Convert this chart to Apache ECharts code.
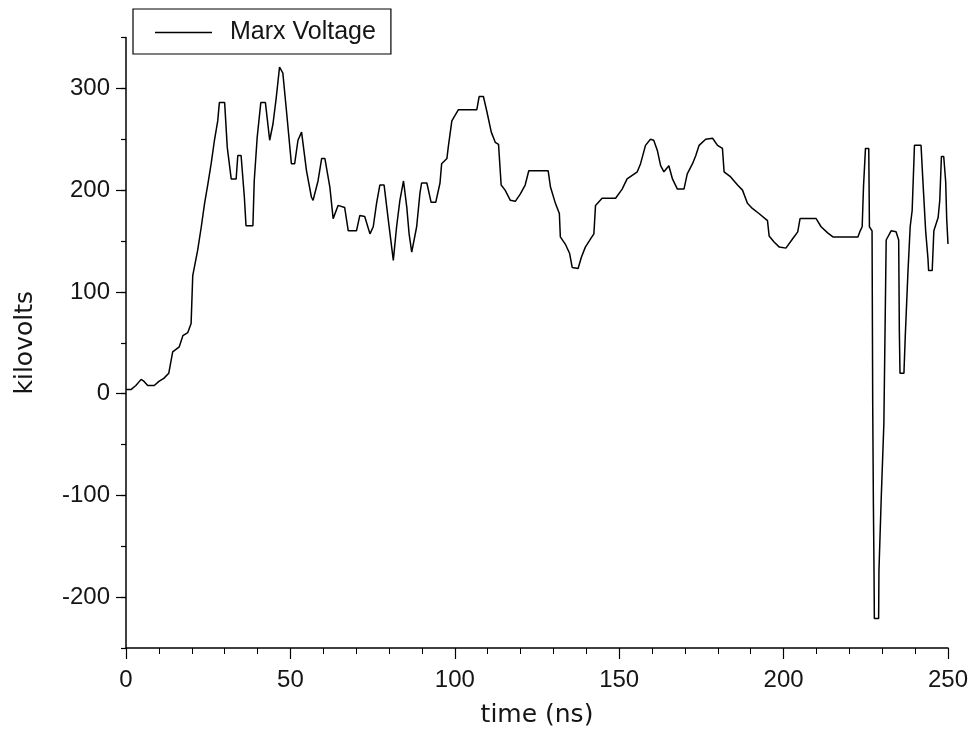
<!DOCTYPE html>
<html>
<head>
<meta charset="utf-8">
<script src="https://cdn.jsdelivr.net/npm/echarts@6/dist/echarts.min.js"></script>
<style>
html,body{margin:0;padding:0;background:#fff;}
#chart{width:971px;height:729px;}
</style>
</head>
<body>
<div id="chart"></div>
<script>
const seriesName = 'Marx Voltage';
const xTitle = 'time (ns)';
const yTitle = 'kilovolts';
const timeNs = [0,1.5,3,4.6,5.5,6.6,8.6,10,11.5,13,14.2,16.2,17.3,18.8,19.8,20.3,21.8,22.9,23.9,24.9,25.9,26.9,27.9,28.4,30,30.8,32,33.5,34,35,36,36.5,38.6,39,39.9,41,42.4,43.7,44.7,45.7,46.7,47.7,48.8,50.3,51.3,52.3,53.4,54.9,56.4,56.9,58.4,59.5,60.5,62,63,64.5,66.5,67.6,70.1,71.1,72.6,74.2,75.2,76.2,77.2,78.5,79.8,81.3,82.3,83.3,84.4,85.4,86.1,86.9,88.4,89.4,89.9,91.5,92.8,94.2,95.5,96,97.6,98,99.1,101.1,106.7,107.4,108.7,109.7,111.1,112.3,113.3,114.1,115.3,116.9,118.4,119.9,121.4,122.5,128.4,129.1,130.6,131.8,132.1,133.6,134.9,135.7,137.5,138.5,139.7,141.3,142.3,142.8,144.8,148.9,150.9,152.4,155.5,156.5,158,159.5,160.5,161.6,162.6,163.6,165.1,166.2,167.7,169.7,170.7,172.3,173.3,174.3,176.3,178.4,179.9,181.4,181.9,183.9,186,187.5,189,190.5,192.5,195.1,195.6,197.1,198.7,200.7,202.7,204.3,205,209.9,211.4,213.4,215,222.6,223.3,223.9,224.3,224.9,225.9,226.1,226.9,227.1,227.3,227.5,227.6,228.9,229.0,229.7,230.5,231.2,232.7,234.2,235,235.2,235.4,236.6,237,237.8,238.5,239.1,239.8,241.8,242.3,243.2,243.9,244.1,245.2,245.7,247,247.5,248,248.7,249.3,249.6,250];
const kilovolts = [4,4,8,14,12,8,8,12,15,20,41,46,57,60,69,116,141,164,187,206,226,249,268,286,286,242,211,211,234,234,193,165,165,209,252,286,286,249,265,291,321,315,278,226,226,249,257,219,193,190,209,231,231,203,172,185,183,160,160,175,174,157,164,187,205,205,170,131,164,190,209,183,157,139,164,197,207,207,188,188,207,226,231,242,268,279,279,292,292,278,257,247,245,205,200,190,189,196,205,219,219,203,187,177,154,147,138,124,123,134,144,152,157,185,192,192,201,211,218,226,244,250,249,239,224,218,224,211,201,201,216,226,234,244,250,251,244,241,218,213,205,200,187,182,177,170,155,149,144,143,152,159,172,172,164,158,154,154,160,164,203,241,241,164,160,-10,-105,-174,-221,-221,-174,-102,-29,151,160,159,151,62,20,20,56,118,164,180,244,244,213,160,133,121,121,160,173,190,233,233,208,172,147];
const xTicks = [0,50,100,150,200,250];
const yTicks = [-200,-100,0,100,200,300];

const points = timeNs.map((t,i)=>[t,kilovolts[i]]);
const chart = echarts.init(document.getElementById('chart'));
const tickFont = {fontFamily:'Liberation Sans', fontSize:24, color:'#151515'};

// layout: main plot box, and a second (invisible) box spanning exactly the labelled range
const G = {left:126, right:23, top:37.5, bottom:81};
const yMin = -250, yMax = 350;
const k = (729 - G.top - G.bottom) / (yMax - yMin);
const lab0 = yTicks[0], lab1 = yTicks[yTicks.length-1];

chart.setOption({
  animation:false,
  backgroundColor:'#fff',
  grid:[
    {left:G.left,right:G.right,top:G.top,bottom:G.bottom,containLabel:false,outerBoundsMode:'none'},
    {left:G.left,right:G.right,top:G.top+(yMax-lab1)*k,bottom:G.bottom+(lab0-yMin)*k,containLabel:false,outerBoundsMode:'none'}
  ],
  legend:{
    left:133, top:9,
    padding:[11,15,9,22],
    borderColor:'#000', borderWidth:1.2,
    itemWidth:57, itemHeight:1.5, icon:'rect',
    data:[seriesName],
    itemStyle:{color:'#000'},
    textStyle:{fontFamily:'Liberation Sans', fontSize:25, color:'#151515', padding:[0,0,0,13]}
  },
  xAxis:[{
    type:'value', min:0, max:250, interval:50, gridIndex:0,
    name:xTitle, nameLocation:'middle', nameGap:55,
    nameTextStyle:{fontFamily:'DejaVu Sans', fontSize:25, color:'#151515'},
    axisLine:{show:true,onZero:false,lineStyle:{color:'#000',width:1.5}},
    axisTick:{show:true,inside:false,length:11,lineStyle:{color:'#000',width:1.2}},
    minorTick:{show:true,splitNumber:5,length:6,lineStyle:{color:'#000',width:1}},
    splitLine:{show:false},
    axisLabel:Object.assign({margin:20, formatter:v=>xTicks.includes(v)?String(v):''},tickFont)
  },{
    type:'value', min:0, max:250, gridIndex:1, show:false
  }],
  yAxis:[{
    type:'value', min:yMin, max:yMax, interval:50, gridIndex:0,
    name:yTitle, nameLocation:'middle', nameGap:88, nameRotate:90,
    nameTextStyle:{fontFamily:'DejaVu Sans', fontSize:25, color:'#151515'},
    axisLine:{show:true,onZero:false,lineStyle:{color:'#000',width:1.5}},
    axisTick:{show:true,inside:false,length:5,lineStyle:{color:'#000',width:1.2}},
    splitLine:{show:false},
    axisLabel:{show:false}
  },{
    type:'value', min:lab0, max:lab1, interval:100, gridIndex:1,
    axisLine:{show:false},
    axisTick:{show:true,inside:false,length:10,lineStyle:{color:'#000',width:1.2}},
    splitLine:{show:false},
    axisLabel:Object.assign({margin:16},tickFont)
  }],
  series:[{
    name:seriesName, type:'line', data:points, symbol:'none',
    xAxisIndex:0, yAxisIndex:0,
    lineStyle:{color:'#000', width:1.5}, itemStyle:{color:'#000'}
  }]
});
</script>
</body>
</html>
